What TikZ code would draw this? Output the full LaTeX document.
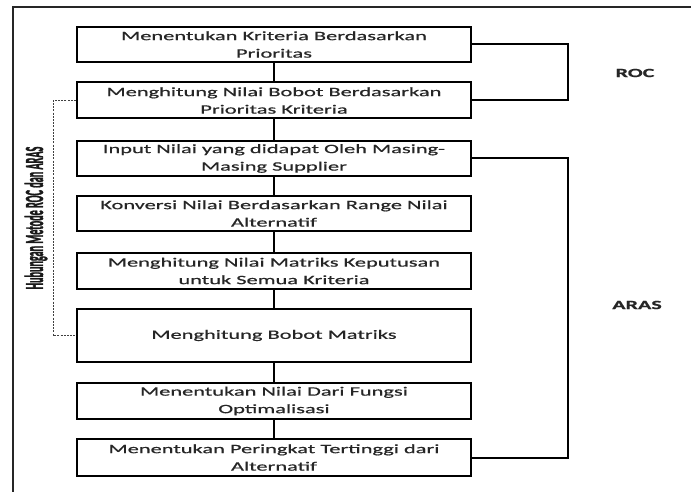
\documentclass[tikz,border=0pt]{standalone}
\usepackage{fontspec}
\newfontfamily\boxfont[FakeStretch=1.75, UprightFeatures={FakeBold=0.6}, BoldFeatures={FakeBold=0.8}]{Carlito}
\newfontfamily\vfont[BoldFeatures={FakeBold=2}]{Carlito}
\begin{document}
\begin{tikzpicture}[x=1pt,y=-1pt,
  stepbox/.style={draw=black, line width=2pt, minimum width=394pt, inner sep=0pt,
    align=center, text=black!85, font=\boxfont\fontsize{12.8}{17.5}\selectfont},
  conn/.style={draw=black, line width=2pt},
  bracket/.style={draw=black, line width=2pt},
  dashconn/.style={draw=black!75, line width=0.8pt, dash pattern=on 2pt off 1.2pt},
  lbl/.style={font=\boxfont\bfseries\fontsize{12.6}{15}\selectfont, text=black!85}]
\useasboundingbox (0,0) rectangle (691,492);
\fill[white] (0,0) rectangle (691,492);
% outer frame
\draw[black!85, line width=1.5pt] (13,493) -- (13,7) -- (692,7);
% boxes
\node[stepbox, minimum height=35pt] (b1) at (274,44.5) {Menentukan Kriteria Berdasarkan\\Prioritas};
\node[stepbox, minimum height=36pt] (b2) at (274,100.5) {Menghitung Nilai Bobot Berdasarkan\\Prioritas Kriteria};
\node[stepbox, minimum height=35pt] (b3) at (274,158.5) {Input Nilai yang didapat Oleh Masing-\\Masing Supplier};
\node[stepbox, minimum height=35pt] (b4) at (274,213.5) {Konversi Nilai Berdasarkan Range Nilai\\Alternatif};
\node[stepbox, minimum height=36pt] (b5) at (274,271) {Menghitung Nilai Matriks Keputusan\\untuk Semua Kriteria};
\node[stepbox, minimum height=53pt] (b6) at (274,335.5) {Menghitung Bobot Matriks};
\node[stepbox, minimum height=36pt] (b7) at (274,401) {Menentukan Nilai Dari Fungsi\\Optimalisasi};
\node[stepbox, minimum height=37pt] (b8) at (274,457.5) {Menentukan Peringkat Tertinggi dari\\Alternatif};
% vertical connectors
\draw[conn] (b1) -- (b2);
\draw[conn] (b2) -- (b3);
\draw[conn] (b3) -- (b4);
\draw[conn] (b4) -- (b5);
\draw[conn] (b5) -- (b6);
\draw[conn] (b6) -- (b7);
\draw[conn] (b7) -- (b8);
% brackets
\coordinate (bx) at (568,0);
\coordinate (dx) at (53,0);
\draw[bracket] (b1.east) -- (b1.east -| bx) -- (b2.east -| bx) -- (b2.east);
\draw[bracket] (b3.east) -- (b3.east -| bx) -- (b8.east -| bx) -- (b8.east);
\draw[dashconn] (b2.west) -- (b2.west -| dx) -- (b6.west -| dx) -- (b6.west);
% labels
\node[lbl] (roc) at (635,73) {ROC};
\node[lbl] (aras) at (637,305) {ARAS};
\node[rotate=90, inner sep=0pt, text=black!90] (hub) at (36,218)
  {\scalebox{0.82}[2.1]{\vfont\bfseries\fontsize{12.4}{15}\selectfont Hubungan Metode ROC dan ARAS}};
\end{tikzpicture}
\end{document}
